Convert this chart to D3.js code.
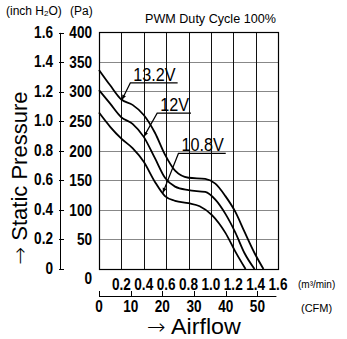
<!DOCTYPE html>
<html>
<head>
<meta charset="utf-8">
<script src="https://cdn.jsdelivr.net/npm/d3@7"></script>
<style>
  body { margin: 0; background: #fff; }
  svg { display: block; }
  .tick-lbl { font-family: "Liberation Sans", Arial, sans-serif; font-size: 17px; font-weight: bold; fill: #000; }
  .small { font-family: "Liberation Sans", Arial, sans-serif; font-size: 10px; fill: #000; }
  .arrow { font-family: "Noto Sans", "DejaVu Sans", sans-serif; font-weight: 300; }
</style>
</head>
<body>
<svg id="chart" width="347" height="339"></svg>
<script>
// airflow (m3/min) and static pressure (Pa)
const flow132 = [0, 0.10, 0.20, 0.30, 0.40, 0.50, 0.59, 0.68, 0.80, 0.95, 1.04, 1.13, 1.22, 1.30, 1.39, 1.47];
const pres132 = [336, 310, 286, 277, 260, 230, 193, 166, 154, 152, 144, 123, 96, 63, 27, 0];

const flow120 = [0, 0.10, 0.20, 0.30, 0.40, 0.50, 0.59, 0.68, 0.80, 0.95, 1.04, 1.13, 1.22, 1.30, 1.39];
const pres120 = [302, 279, 256, 245, 223, 187, 154, 139, 133, 130, 117, 93, 61, 27, 0];

const flow108 = [0, 0.10, 0.20, 0.30, 0.40, 0.50, 0.59, 0.68, 0.80, 0.90, 1.01, 1.13, 1.22, 1.31];
const pres108 = [264, 240, 220, 204, 181, 147, 123, 115, 111, 106, 91, 61, 29, 0];

const seriesNames = ["13.2V", "12V", "10.8V"];

const flowTicks = [0.2, 0.4, 0.6, 0.8, 1.0, 1.2, 1.4, 1.6];
const cfmTicks = [0, 10, 20, 30, 40, 50];
const paTicks = [50, 100, 150, 200, 250, 300, 350, 400];
const inchTicks = [0, 0.2, 0.4, 0.6, 0.8, 1.0, 1.2, 1.4, 1.6];

const svg = d3.select("#chart");

const pLeft = 99, pRight = 278, pTop = 32, pBottom = 269;
const x = d3.scaleLinear().domain([0, 1.6]).range([pLeft, pRight]);
const y = d3.scaleLinear().domain([0, 400]).range([pBottom, pTop]);
const xCfm = d3.scaleLinear().domain([0, 1.6 / 0.0283168]).range([pLeft, pRight]);
const yInch = d3.scaleLinear().domain([0, 400 / 249.089]).range([pBottom, pTop]);

const SQ = 0.8; // horizontal squeeze for the condensed look of the labels

// grid: horizontal lines grey, vertical lines black
svg.append("g").selectAll("line")
  .data(paTicks.slice(0, -1))
  .join("line")
  .attr("x1", pLeft).attr("x2", pRight)
  .attr("y1", d => Math.round(y(d)) + 0.5).attr("y2", d => Math.round(y(d)) + 0.5)
  .attr("stroke", "#888").attr("stroke-width", 1);

svg.append("g").selectAll("line")
  .data(flowTicks.slice(0, -1))
  .join("line")
  .attr("x1", d => Math.round(x(d)) + 0.5).attr("x2", d => Math.round(x(d)) + 0.5)
  .attr("y1", pTop).attr("y2", pBottom)
  .attr("stroke", "#111").attr("stroke-width", 1);

// frame
svg.append("rect")
  .attr("x", pLeft + 0.5).attr("y", pTop + 0.5)
  .attr("width", pRight - pLeft).attr("height", pBottom - pTop)
  .attr("fill", "none").attr("stroke", "#000").attr("stroke-width", 1.2);

// Pa labels
svg.append("g").selectAll("text")
  .data(paTicks)
  .join("text")
  .attr("class", "tick-lbl")
  .attr("transform", d => `translate(92,${y(d) + 6}) scale(${SQ},1)`)
  .attr("text-anchor", "end")
  .text(d => d);

// origin label
svg.append("text").attr("class", "tick-lbl")
  .attr("transform", `translate(92,284) scale(${SQ},1)`)
  .attr("text-anchor", "end").text("0");

// inch axis
const gInch = svg.append("g");
gInch.append("line")
  .attr("x1", 60.5).attr("x2", 60.5)
  .attr("y1", yInch(1.6)).attr("y2", yInch(0))
  .attr("stroke", "#000");
gInch.selectAll(".tk")
  .data(inchTicks)
  .join("line")
  .attr("class", "tk")
  .attr("x1", 59).attr("x2", 64)
  .attr("y1", d => Math.round(yInch(d)) + 0.5).attr("y2", d => Math.round(yInch(d)) + 0.5)
  .attr("stroke", "#000");
gInch.selectAll("text")
  .data(inchTicks)
  .join("text")
  .attr("class", "tick-lbl")
  .attr("transform", d => `translate(53,${yInch(d) + 5}) scale(${SQ},1)`)
  .attr("text-anchor", "end")
  .text(d => d === 0 ? "0" : d.toFixed(1));

// m3/min labels
svg.append("g").selectAll("text")
  .data(flowTicks)
  .join("text")
  .attr("class", "tick-lbl")
  .attr("transform", d => `translate(${x(d)},290) scale(${SQ},1)`)
  .attr("text-anchor", "middle")
  .text(d => d.toFixed(1));

svg.append("text").attr("class", "small")
  .attr("x", 298).attr("y", 288).text("(m³/min)");

// CFM axis
const gCfm = svg.append("g");
gCfm.append("line")
  .attr("x1", xCfm(0)).attr("x2", xCfm(56))
  .attr("y1", 296.5).attr("y2", 296.5)
  .attr("stroke", "#000");
gCfm.selectAll(".tk")
  .data(cfmTicks)
  .join("line")
  .attr("class", "tk")
  .attr("x1", d => Math.round(xCfm(d)) + 0.5).attr("x2", d => Math.round(xCfm(d)) + 0.5)
  .attr("y1", 291).attr("y2", 297)
  .attr("stroke", "#000");
gCfm.selectAll("text")
  .data(cfmTicks)
  .join("text")
  .attr("class", "tick-lbl")
  .attr("transform", d => `translate(${xCfm(d)},312) scale(${SQ},1)`)
  .attr("text-anchor", "middle")
  .text(d => d);

svg.append("text").attr("class", "small")
  .attr("x", 301).attr("y", 312).style("font-size", "11px").text("(CFM)");

// header texts
svg.append("text").attr("class", "small")
  .attr("x", 6).attr("y", 15).style("font-size", "12px")
  .html('(inch H<tspan font-size="8" dy="1">2</tspan><tspan dy="-1">O)</tspan>');
svg.append("text").attr("class", "small")
  .attr("x", 70).attr("y", 15).style("font-size", "12px").text("(Pa)");

svg.append("text").attr("class", "small")
  .attr("x", 145).attr("y", 23).style("font-size", "12.6px")
  .text("PWM Duty Cycle 100%");

// axis titles
svg.append("text")
  .attr("transform", "translate(27,178) rotate(-90)")
  .attr("text-anchor", "middle")
  .style("font-family", "Liberation Sans, Arial, sans-serif")
  .style("font-size", "22px")
  .html('<tspan class="arrow" font-size="21">→</tspan> Static Pressure');

svg.append("text")
  .attr("transform", "translate(194,334) scale(1.06,1)")
  .attr("text-anchor", "middle")
  .style("font-family", "Liberation Sans, Arial, sans-serif")
  .style("font-size", "22px")
  .html('<tspan class="arrow" font-size="21">→</tspan> Airflow');

// curves
const series = [
  { name: seriesNames[0], pts: flow132.map((f, i) => [f, pres132[i]]) },
  { name: seriesNames[1], pts: flow120.map((f, i) => [f, pres120[i]]) },
  { name: seriesNames[2], pts: flow108.map((f, i) => [f, pres108[i]]) }
];

const line = d3.line()
  .x(d => x(d[0]))
  .y(d => y(d[1]))
  .curve(d3.curveMonotoneX);

svg.append("g").selectAll("path")
  .data(series)
  .join("path")
  .attr("d", d => line(d.pts))
  .attr("fill", "none")
  .attr("stroke", "#000")
  .attr("stroke-width", 1.8);

// callouts: text anchor and leader target in data units
const callouts = [
  { s: 0, tx: 0.28, ty: 314, at: 0.205 },
  { s: 1, tx: 0.52, ty: 263, at: 0.40 },
  { s: 2, tx: 0.71, ty: 195, at: 0.57 }
];

function presAt(pts, q) {
  for (let i = 1; i < pts.length; i++) {
    if (pts[i][0] >= q) {
      const t = (q - pts[i - 1][0]) / (pts[i][0] - pts[i - 1][0]);
      return pts[i - 1][1] + t * (pts[i][1] - pts[i - 1][1]);
    }
  }
  return 0;
}

const gc = svg.append("g");
callouts.forEach(c => {
  const s = series[c.s];
  const lx = x(c.tx), ly = y(c.ty);
  const t = gc.append("text")
    .attr("transform", `translate(${lx + 3},${ly - 2}) scale(0.9,1)`)
    .style("font-family", "Liberation Sans, Arial, sans-serif")
    .style("font-size", "18px")
    .text(s.name);
  const w = t.node().getComputedTextLength() * 0.9;
  const ex = x(c.at), ey = y(presAt(s.pts, c.at));
  gc.append("polyline")
    .attr("points", `${lx + w + 5},${ly} ${lx},${ly} ${ex},${ey}`)
    .attr("fill", "none").attr("stroke", "#000").attr("stroke-width", 1.2);
  // small arrow tip
  const ang = Math.atan2(ey - ly, ex - lx);
  const a = 5, b = 2;
  gc.append("path")
    .attr("d", `M${ex},${ey} L${ex - a * Math.cos(ang) + b * Math.sin(ang)},${ey - a * Math.sin(ang) - b * Math.cos(ang)} L${ex - a * Math.cos(ang) - b * Math.sin(ang)},${ey - a * Math.sin(ang) + b * Math.cos(ang)}Z`)
    .attr("fill", "#000");
});
</script>
</body>
</html>
